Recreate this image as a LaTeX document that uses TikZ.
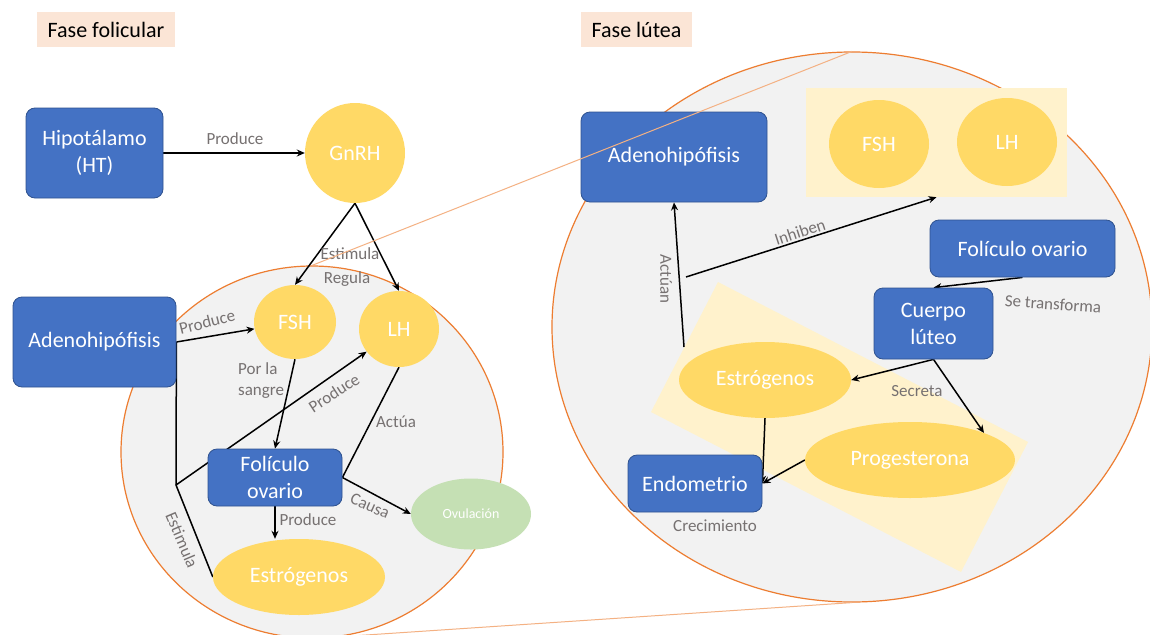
\documentclass[tikz,border=0pt]{standalone}
\usepackage{fontspec}
\setmainfont{Carlito}
\usetikzlibrary{shapes.geometric,arrows.meta,calc}
\definecolor{blueb}{RGB}{68,114,196}
\definecolor{blued}{RGB}{47,82,143}
\definecolor{yel}{RGB}{255,217,102}
\definecolor{lyel}{RGB}{255,242,204}
\definecolor{grn}{RGB}{197,224,180}
\definecolor{peach}{RGB}{251,229,214}
\definecolor{circfill}{RGB}{242,242,242}
\definecolor{orng}{RGB}{237,125,49}
\definecolor{lorng}{RGB}{244,177,131}
\definecolor{lblc}{RGB}{118,113,113}
\pgfdeclarelayer{bg}\pgfdeclarelayer{edges}\pgfdeclarelayer{top}
\pgfsetlayers{bg,edges,main,top}
\begin{document}
\begin{tikzpicture}[x=1pt,y=-1pt,
 box/.style={rectangle,rounded corners=9pt,fill=blueb,draw=blued,line width=0.8pt,text=white,font=\fontsize{22}{27}\selectfont,align=center,inner sep=0pt},
 hormone/.style={ellipse,fill=yel,text=white,font=\fontsize{22}{27}\selectfont,inner sep=0pt},
 arr/.style={-{Stealth[length=8pt,width=7pt]},line width=1.5pt,black,line join=round},
 plainline/.style={line width=1.5pt,black},
 lbl/.style={text=lblc,font=\fontsize{17}{21}\selectfont,inner sep=0pt},
 phase/.style={rectangle,fill=peach,text=black,font=\fontsize{22}{26}\selectfont,inner sep=0pt},
 bigcirc/.style={ellipse,fill=circfill,draw=orng,line width=1.2pt,inner sep=0pt},
 tang/.style={draw=lorng,line width=1pt}
]
\useasboundingbox (0,0) rectangle (1150,634);
\begin{pgfonlayer}{bg}
\fill[white] (0,0) rectangle (1150,634);
\node[bigcirc, minimum width=382pt, minimum height=372pt] (circL) at (312,452) {};
\node[bigcirc, minimum width=600pt, minimum height=550pt] (circR) at (852,327) {};
\node[rectangle, fill=lyel, minimum width=261pt, minimum height=109pt, inner sep=0pt] (fshlh) at (936.5,142.5) {};
\fill[lyel] (718,282) -- (1028,442) -- (961,572) -- (651,412) -- cycle;
\end{pgfonlayer}

% Left: fase folicular
\node[phase, minimum width=138pt, minimum height=35pt] (fasef) at (106,29.5) {Fase folicular};
\node[box, minimum width=137pt, minimum height=90pt] (hipo) at (94.5,153) {Hipotálamo\\(HT)};
\node[hormone, minimum width=100pt, minimum height=100pt] (gnrh) at (355,153) {GnRH};
\node[box, minimum width=163pt, minimum height=90pt] (adenoL) at (94.5,342) {Adenohipófisis};
\node[hormone, minimum width=82pt, minimum height=74pt] (fshL) at (295,322) {FSH};
\node[hormone, minimum width=80pt, minimum height=76pt] (lhL) at (399,329) {LH};
\node[box, minimum width=134pt, minimum height=57pt] (folL) at (275,477.5) {Folículo\\ovario};
\node[ellipse, fill=grn, text=white, font=\fontsize{14}{16}\selectfont, minimum width=120pt, minimum height=71pt, inner sep=0pt] (ovu) at (471,514) {Ovulación};
\node[hormone, minimum width=172pt, minimum height=76pt] (estL) at (299,577) {Estrógenos};
\coordinate (J) at (176,485);

% Right: fase lutea
\node[phase, minimum width=111pt, minimum height=35pt] (fasel) at (636.5,29.5) {Fase lútea};
\node[box, minimum width=186pt, minimum height=90pt] (adenoR) at (674,157) {Adenohipófisis};
\node[hormone, minimum width=100pt, minimum height=88pt] (fshR) at (879,144) {FSH};
\node[hormone, minimum width=100pt, minimum height=88pt] (lhR) at (1007,142) {LH};
\node[box, minimum width=185pt, minimum height=57pt] (folR) at (1022.5,248.5) {Folículo ovario};
\node[box, minimum width=119pt, minimum height=71pt] (cuerpo) at (933.5,323.5) {Cuerpo\\lúteo};
\node[hormone, minimum width=172pt, minimum height=76pt] (estR) at (765,380) {Estrógenos};
\node[hormone, minimum width=210pt, minimum height=76pt] (prog) at (910,460) {Progesterona};
\node[box, minimum width=134pt, minimum height=57pt] (endo) at (695,483.5) {Endometrio};
\coordinate (actstart) at (684,347);
\coordinate (inhstart) at (686,277);
\coordinate (pgtip) at (984,433);

\begin{pgfonlayer}{edges}
\draw[arr] (hipo.east) -- (gnrh.west);
\draw[arr] (gnrh.south) -- (fshL.north);
\draw[arr] (gnrh.south) -- (lhL.north);
\draw[arr] (adenoL.east) -- (fshL);
\draw[plainline] (adenoL.east) -- (J);
\draw[arr] (estL.west) -- (J) -- (lhL);
\draw[arr] (fshL.south) -- (folL.north);
\draw[plainline] (lhL.south) -- (folL.east);
\draw[arr] (folL.east) -- (ovu.west);
\draw[arr] (folL.south) -- (folL.south |- estL.north);
\draw[arr] (folR.south) -- (cuerpo.north);
\draw[arr] (cuerpo.south) -- (estR.east);
\draw[arr] (cuerpo.south) -- (pgtip);
\draw[arr] (estR.south) -- (endo.east);
\draw[arr] (prog.west) -- (endo.east);
\draw[arr] (actstart) -- (adenoR.south);
\draw[arr] (inhstart) -- (fshlh.south);
\end{pgfonlayer}

% labels left
\node[lbl] (l1) at (235,139) {Produce};
\node[lbl] (l2) at (350,254) {Estimula};
\node[lbl] (l3) at (347,279) {Regula};
\node[lbl, rotate=14] (l4) at (207,322) {Produce};
\node[lbl, align=left, anchor=west] (l5) at (238,381) {Por la\\sangre};
\node[lbl, rotate=33] (l6) at (334,393) {Produce};
\node[lbl] (l7) at (396,422) {Actúa};
\node[lbl, rotate=-24] (l8) at (370,506) {Causa};
\node[lbl] (l9) at (308,520) {Produce};
\node[lbl, rotate=-67] (l10) at (182,540) {Estimula};
% labels right
\node[lbl, rotate=-90] (r1) at (666,279) {Actúan};
\node[lbl, rotate=18] (r2) at (800,232) {Inhiben};
\node[lbl, rotate=-4] (r3) at (1053,304) {Se transforma};
\node[lbl] (r4) at (917,391) {Secreta};
\node[lbl] (r5) at (715,526) {Crecimiento};

\begin{pgfonlayer}{top}
\draw[tang] (circL.north) -- (circR.north);
\draw[tang] (circL.south) -- (circR.south);
\end{pgfonlayer}
\end{tikzpicture}
\end{document}
